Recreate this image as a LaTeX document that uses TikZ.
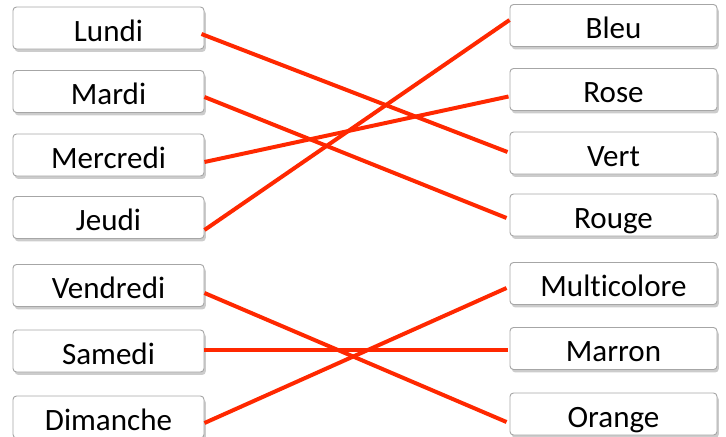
\documentclass[tikz,border=0pt]{standalone}
\usepackage{fontspec}
\setmainfont[Ligatures=NoCommon]{Carlito}
\usetikzlibrary{shadows,calc}

\begin{document}
\begin{tikzpicture}[
  x=0.03cm, y=-0.03cm,
  day/.style={rectangle, rounded corners=3pt, draw=black!35, line width=0.8pt, fill=white,
    minimum width=5.73cm, minimum height=1.26cm, inner sep=0pt, text height=0.79cm, text depth=0pt,
    font=\fontsize{26.5}{30}\selectfont,
    drop shadow={shadow xshift=1.5pt, shadow yshift=-2.5pt, fill=black!40, opacity=0.5}},
  colour/.style={day, minimum width=6.21cm},
  link/.style={draw={rgb,255:red,255;green,40;blue,0}, line width=3.4pt}
]
\clip (0,0) rectangle (726,436);
\useasboundingbox (0,0) rectangle (726,436);

% Days (left column)
\node[day] (Lundi) at (108.5,28) {Lundi};
\node[day] (Mardi) at (108.5,91.5) {Mardi};
\node[day] (Mercredi) at (108.5,155) {Mercredi};
\node[day] (Jeudi) at (108.5,217.5) {Jeudi};
\node[day] (Vendredi) at (108.5,285.5) {Vendredi};
\node[day] (Samedi) at (108.5,351) {Samedi};
\node[day] (Dimanche) at (108.5,417) {Dimanche};

% Colours (right column)
\node[colour] (Bleu) at (613.5,25.5) {Bleu};
\node[colour] (Rose) at (613.5,89.5) {Rose};
\node[colour] (Vert) at (613.5,153) {Vert};
\node[colour] (Rouge) at (613.5,215) {Rouge};
\node[colour] (Multicolore) at (613.5,283.5) {Multicolore};
\node[colour] (Marron) at (613.5,348.5) {Marron};
\node[colour] (Orange) at (613.5,414) {Orange};

% Matches
\draw[link] ($(Lundi.east)+(-3,6)$) -- ($(Vert.west)+(-2,-1)$);
\draw[link] ($(Mardi.east)+(0,5.5)$) -- ($(Rouge.west)+(-3,3)$);
\draw[link] ($(Mercredi.east)+(0,7)$) -- ($(Rose.west)+(-1,7)$);
\draw[link] ($(Jeudi.east)+(0,12.5)$) -- ($(Bleu.west)+(0,-5.5)$);
\draw[link] ($(Vendredi.east)+(0,7.5)$) -- ($(Orange.west)+(-3,8)$);
\draw[link] ($(Samedi.east)+(0,-1)$) -- ($(Marron.west)+(-2,1.5)$);
\draw[link] ($(Dimanche.east)+(0,6)$) -- ($(Multicolore.west)+(-3,4.5)$);

\end{tikzpicture}
\end{document}
